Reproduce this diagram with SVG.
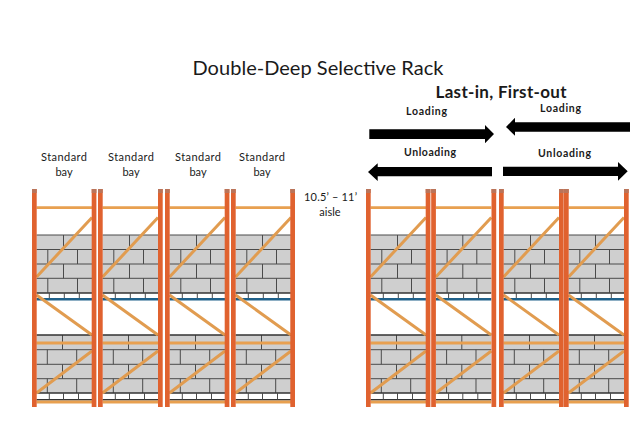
<svg xmlns="http://www.w3.org/2000/svg" width="643" height="448" viewBox="0 0 643 448">
<style>
text{font-family:"Lato","Open Sans","Liberation Sans",sans-serif;fill:#1a1a1a}
.t{font-size:11px;text-anchor:middle}
.b{font-size:10.5px;font-weight:700;text-anchor:middle}
.post{fill:#e0622f}
.cap{fill:#b9745a}
.beam{stroke:#e8a050;stroke-width:2.8;fill:none}
.brace{stroke:#e19c50;stroke-width:3;fill:none}
.load{fill:#cfcfcf}
.ln{stroke:#4a4a4a;stroke-width:1;fill:none}
.dk{stroke:#333;stroke-width:1.4;fill:none}
.blue{stroke:#1f6089;stroke-width:2.4;fill:none}
.arrow{fill:#000}
</style>
<defs>
<g id="bay">
<rect class="load" x="0" y="235" width="55.5" height="58"/>
<path class="ln" d="M0 235H55.5M0 249.5H55.5M0 264H55.5M0 278.3H55.5M27 235V249.5M11.3 249.5V264M41 249.5V264M27 264V278.3M11.3 278.3V292.7M41 278.3V292.7"/>
<path class="dk" d="M0 293H55.5"/>
<path class="ln" d="M12.8 293V299M27.8 293V299M42.8 293V299"/>
<path class="blue" d="M0 299.2H55.5"/>
<rect class="load" x="0" y="335" width="55.5" height="58"/>
<path class="ln" d="M0 349.7H55.5M0 364.3H55.5M0 378.7H55.5M26 335V349.7M10.8 349.7V364.3M40.2 349.7V364.3M26 364.3V378.7M10.8 378.7V393M40.2 378.7V393"/>
<path class="dk" d="M0 335H55.5M0 393H55.5M0 399.7H55.5"/>
<path class="ln" d="M12.8 393V399.5M27 393V399.5M42 393V399.5"/>
<path class="brace" d="M0 277L55.5 217.5M0 295L55.5 335M0 393L55.5 351"/>
<path class="beam" d="M0 207.7H55.5M0 343H55.5M0 402H55.5"/>
</g>
<g id="post">
<rect class="post" x="0" y="189" width="4.7" height="218"/>
<rect class="cap" x="0" y="189" width="4.7" height="4"/>
</g>
</defs>
<text x="318" y="75" font-size="20" text-anchor="middle" textLength="251">Double-Deep Selective Rack</text>
<text x="501" y="98" font-size="17" font-weight="700" text-anchor="middle" textLength="131">Last-in, First-out</text>
<g id="connectors">
<path class="arrow" d="M369.3 129.3H485V125L494 134L485 143.3V139H369.3Z"/>
<path class="arrow" d="M630 122.3H515V117.7L506 127L515 135.7V131.7H630Z"/>
<path class="arrow" d="M492 167H377.7V163.3L368 172L377.7 181V176.3H492Z"/>
<path class="arrow" d="M503 166.7H618V162L627.7 171.3L618 180.7V176H503Z"/>
</g>
<text class="b" x="426.500" y="115" textLength="41">Loading</text>
<text class="b" x="560.500" y="112" textLength="41">Loading</text>
<text class="b" x="430" y="156" textLength="52">Unloading</text>
<text class="b" x="564.500" y="157" textLength="53">Unloading</text>
<text class="t" x="64" y="161" textLength="46">Standard</text><text class="t" x="64" y="176">bay</text>
<text class="t" x="131" y="161" textLength="46">Standard</text><text class="t" x="131" y="176">bay</text>
<text class="t" x="198" y="161" textLength="46">Standard</text><text class="t" x="198" y="176">bay</text>
<text class="t" x="262" y="161" textLength="46">Standard</text><text class="t" x="262" y="176">bay</text>
<text class="t" x="330.500" y="201" textLength="53">10.5’ – 11’</text>
<text class="t" x="330" y="216">aisle</text>
<g id="rack-left">
<g id="bay-1"><use href="#bay" x="36.500"/><use href="#post" x="32"/><use href="#post" x="91.700"/></g>
<g id="bay-2"><use href="#bay" x="102.500"/><use href="#post" x="98"/><use href="#post" x="158"/></g>
<g id="bay-3"><use href="#bay" x="169.500"/><use href="#post" x="165"/><use href="#post" x="224.700"/></g>
<g id="bay-4"><use href="#bay" x="235.500"/><use href="#post" x="231"/><use href="#post" x="290.300"/></g>
</g>
<g id="rack-right">
<g id="bay-5"><use href="#bay" x="370.500"/><use href="#post" x="366"/><use href="#post" x="425.700"/></g>
<g id="bay-6"><use href="#bay" x="435.800"/><use href="#post" x="431.200"/><use href="#post" x="491.500"/></g>
<g id="bay-7"><use href="#bay" x="503.500"/><use href="#post" x="499"/><use href="#post" x="559"/></g>
<g id="bay-8"><use href="#bay" x="568.500"/><use href="#post" x="564"/><use href="#post" x="624"/></g>
</g>
</svg>
